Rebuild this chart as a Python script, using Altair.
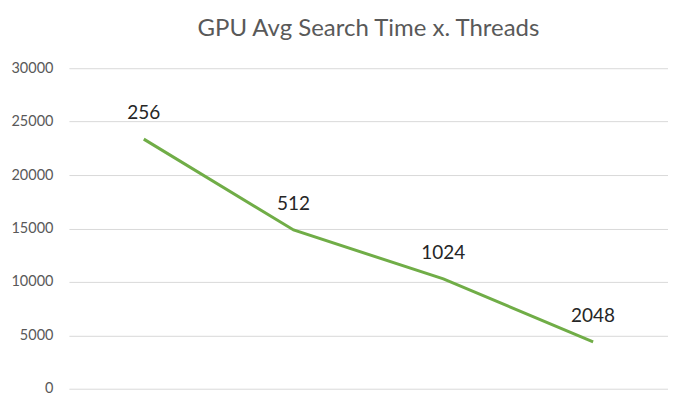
import altair as alt
import pandas as pd

threads = ["256", "512", "1024", "2048"]
avg_time = [23360, 14860, 10280, 4390]

df = pd.DataFrame({"threads": threads, "time": avg_time})

x = alt.X("threads:N", sort=threads, axis=None,
          scale=alt.Scale(paddingOuter=0.5, paddingInner=0))
y = alt.Y("time:Q", scale=alt.Scale(domain=[0, 30000]),
          axis=alt.Axis(values=[0, 5000, 10000, 15000, 20000, 25000, 30000],
                        title=None, domain=False, ticks=False, format="d",
                        labelColor="#595959", labelFontSize=14.5, labelPadding=16,
                        gridColor="#D9D9D9", gridWidth=1, labelFont="Lato"))

line = alt.Chart(df).mark_line(color="#70AD47", strokeWidth=3).encode(x=x, y=y)
labels = alt.Chart(df).mark_text(dy=-26, fontSize=19, color="#262626", font="Lato").encode(
    x=x, y=y, text="threads:N")

chart = (line + labels).properties(
    width=600, height=321,
    autosize=alt.AutoSizeParams(type="none"),
    padding={"left": 61, "top": 60, "right": 0, "bottom": 15},
    title=alt.TitleParams("GPU Avg Search Time x. Threads", fontSize=24,
                          font="Lato", fontWeight="normal", color="#595959",
                          anchor="middle", offset=19),
).configure_view(stroke=None)

chart.save("out.html", embed_options={"renderer": "svg", "actions": False})
